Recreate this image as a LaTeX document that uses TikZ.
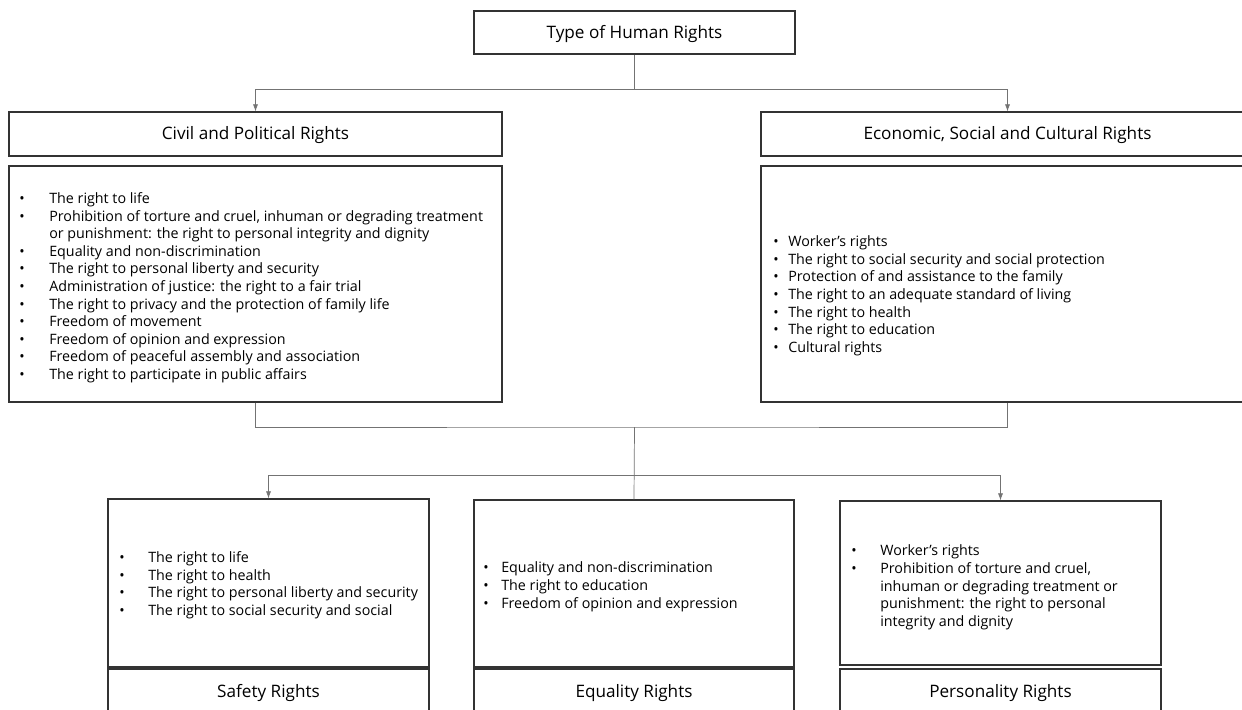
\documentclass[tikz,border=0pt]{standalone}
\usepackage{fontspec}
\setmainfont{Open Sans}
\usetikzlibrary{arrows.meta,positioning}
\newcommand{\bl}{\textbullet}

\begin{document}
\begin{tikzpicture}[x=0.7pt,y=-0.7pt,
  every node/.style={font=\fontsize{12}{14}\selectfont},
  box/.style={draw=black!80,line width=0.8pt,inner sep=0pt,text height=1.05em,text depth=0.23em},
  listtxt/.style={inner sep=0pt,anchor=west,font=\fontsize{10}{12.3}\selectfont},
  conn/.style={draw=black!55,line width=0.5pt},
  arr/.style={-{Latex[length=5pt,width=3.6pt]}}]
  \useasboundingbox (0,0) rectangle (1242,710);
  % top
  \node[box,minimum width=321*0.7pt,minimum height=43*0.7pt] (top) at (634.5,32.5) {Type of Human Rights};
  % two main groups
  \node[box,minimum width=493*0.7pt,minimum height=44*0.7pt] (civil) at (255.5,134) {Civil and Political Rights};
  \node[box,minimum width=493*0.7pt,minimum height=44*0.7pt] (econ) at (1007.5,134) {Economic, Social and Cultural Rights};
  \node[box,minimum width=493*0.7pt,minimum height=236*0.7pt] (civbox) at (255.5,284) {};
  \node[box,minimum width=493*0.7pt,minimum height=236*0.7pt] (econbox) at (1007.5,284) {};
  \node[listtxt] (civlist) at (19,288) {\begin{tabular}{@{}p{21pt}@{}l@{}}
    \bl & The right to life\\
    \bl & Prohibition of torture and cruel, inhuman or degrading treatment\\
        & or punishment: the right to personal integrity and dignity\\
    \bl & Equality and non-discrimination\\
    \bl & The right to personal liberty and security\\
    \bl & Administration of justice: the right to a fair trial\\
    \bl & The right to privacy and the protection of family life\\
    \bl & Freedom of movement\\
    \bl & Freedom of opinion and expression\\
    \bl & Freedom of peaceful assembly and association\\
    \bl & The right to participate in public affairs
  \end{tabular}};
  \node[listtxt] (econlist) at (773,296) {\begin{tabular}{@{}p{10.5pt}@{}l@{}}
    \bl & Worker's rights\\
    \bl & The right to social security and social protection\\
    \bl & Protection of and assistance to the family\\
    \bl & The right to an adequate standard of living\\
    \bl & The right to health\\
    \bl & The right to education\\
    \bl & Cultural rights
  \end{tabular}};
  % three derived groups
  \node[box,minimum width=321*0.7pt,minimum height=168*0.7pt] (safe) at (268.5,583) {};
  \node[box,minimum width=320*0.7pt,minimum height=167*0.7pt] (equal) at (634,583.5) {};
  \node[box,minimum width=321*0.7pt,minimum height=164*0.7pt] (pers) at (1000.5,583) {};
  \node[listtxt] (safelist) at (119,585.5) {\begin{tabular}{@{}p{20.3pt}@{}l@{}}
    \bl & The right to life\\
    \bl & The right to health\\
    \bl & The right to personal liberty and security\\
    \bl & The right to social security and social
  \end{tabular}};
  \node[listtxt] (equallist) at (483,587) {\begin{tabular}{@{}p{12.6pt}@{}l@{}}
    \bl & Equality and non-discrimination\\
    \bl & The right to education\\
    \bl & Freedom of opinion and expression
  \end{tabular}};
  \node[listtxt] (perslist) at (851,587.5) {\begin{tabular}{@{}p{20.3pt}@{}l@{}}
    \bl & Worker's rights\\
    \bl & Prohibition of torture and cruel,\\
        & inhuman or degrading treatment or\\
        & punishment: the right to personal\\
        & integrity and dignity
  \end{tabular}};
  \node[box,minimum width=321*0.7pt,minimum height=45*0.7pt] (safelbl) at (268.5,691.5) {Safety Rights};
  \node[box,minimum width=320*0.7pt,minimum height=45*0.7pt] (equallbl) at (634,691.5) {Equality Rights};
  \node[box,minimum width=321*0.7pt,minimum height=45*0.7pt] (perslbl) at (1000.5,691.5) {Personality Rights};
  % connectors
  \coordinate (j1) at (634.5,89);
  \coordinate (j2) at (634.5,427);
  \coordinate (j3) at (634.5,475);
  \draw[conn] (top.south) -- (j1);
  \draw[conn,arr] (j1) -| (civil.north);
  \draw[conn,arr] (j1) -| (econ.north);
  \draw[conn] (civbox.south) |- (j2) -| (econbox.south);
  \draw[conn] (j2) -- (equal.north);
  \draw[conn,arr] (j3) -| (safe.north);
  \draw[conn,arr] (j3) -| (pers.north);
\end{tikzpicture}
\end{document}
